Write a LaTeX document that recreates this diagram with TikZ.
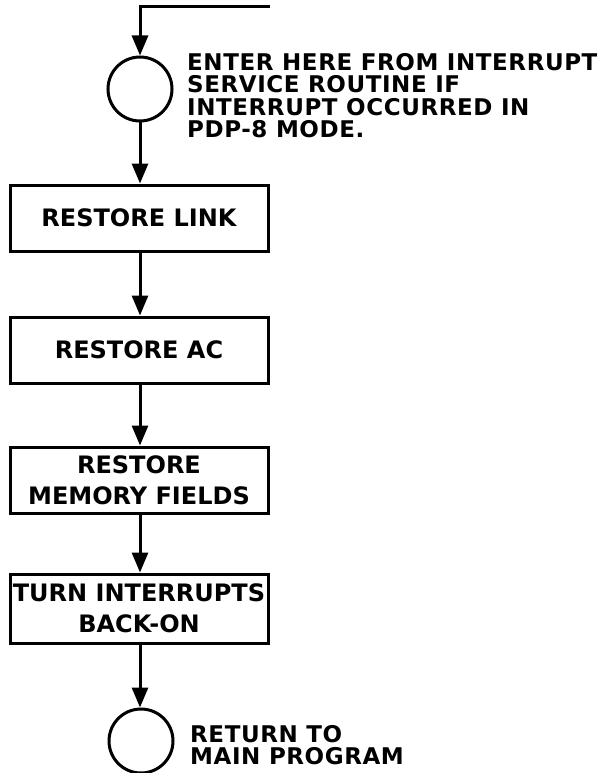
\documentclass[tikz,border=0pt]{standalone}
\usepackage{fontspec}
\setmainfont{DejaVu Sans}
\usetikzlibrary{arrows.meta, positioning}

\begin{document}
\begin{tikzpicture}[
  x=1pt, y=-1pt,
  box/.style={draw, line width=3pt, minimum width=258pt, minimum height=66pt,
              align=center, inner sep=0pt,
              font=\bfseries\fontsize{24}{31}\selectfont},
  terminal/.style={draw, circle, line width=3pt, minimum size=64pt, inner sep=0pt},
  note/.style={align=left, inner sep=0pt, anchor=north west,
               font=\bfseries\fontsize{23}{22.5}\selectfont\addfontfeatures{LetterSpace=2.5}},
  flow/.style={line width=3pt, -{Triangle[length=20pt, width=16pt]}},
]
\useasboundingbox (0,0) rectangle (599,773);
\coordinate (entry) at (270,7);
\node[terminal] (enter) at (140,89) {};
\node[box] (link) at (139,218) {RESTORE LINK};
\node[box] (ac) at (139,350) {RESTORE AC};
\node[box] (fields) at (139,480) {RESTORE\\MEMORY FIELDS};
\node[box, minimum height=69pt] (inton) at (139,608.5) {TURN INTERRUPTS\\BACK-ON};
\node[terminal] (return) at (141,741) {};
\node[note] (entertxt) at (187,53) {ENTER HERE FROM INTERRUPT\\SERVICE ROUTINE IF\\INTERRUPT OCCURRED IN\\PDP-8 MODE.};
\node[note] (returntxt) at (190,725) {RETURN TO\\MAIN PROGRAM};
\draw[flow] (entry) -| (enter.north);
\draw[flow] (enter) -- (enter |- link.north);
\draw[flow] (enter |- link.south) -- (enter |- ac.north);
\draw[flow] (enter |- ac.south) -- (enter |- fields.north);
\draw[flow] (enter |- fields.south) -- (enter |- inton.north);
\draw[flow] (enter |- inton.south) -- (enter |- return.north);
\end{tikzpicture}
\end{document}
